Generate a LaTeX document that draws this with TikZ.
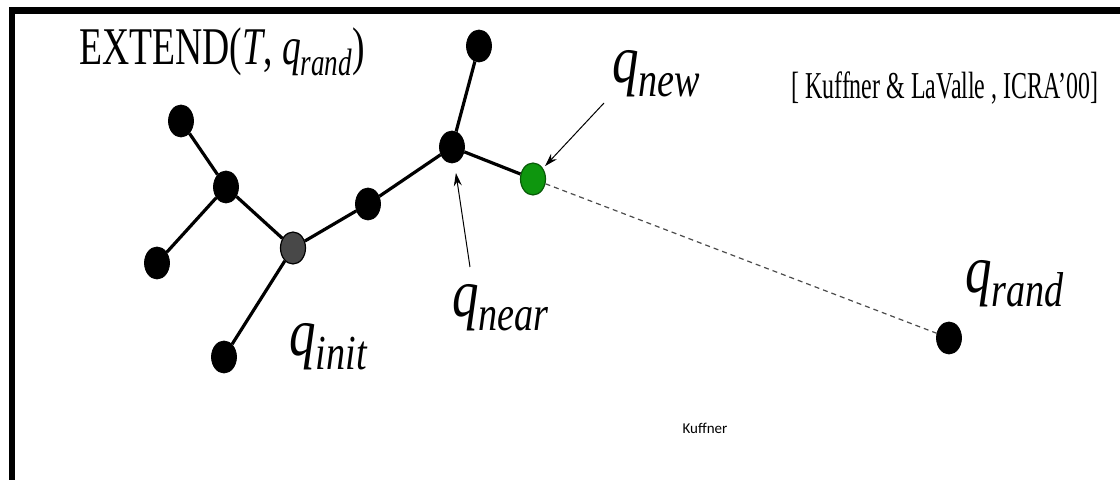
\documentclass[tikz,border=0pt]{standalone}
\usepackage{graphicx}
\usepackage{fontspec}
\setmainfont{Liberation Serif}
\newfontfamily\uifont{Carlito}
\usetikzlibrary{arrows.meta,shapes.geometric}
\definecolor{newgreen}{RGB}{14,150,14}
\definecolor{initgray}{RGB}{72,72,72}
\newcommand{\qsub}[1]{\textit{q}\raisebox{-0.2em}{\scalebox{0.72}{\textit{#1}}}}
\begin{document}
\begin{tikzpicture}[x=0.5pt,y=-0.5pt,
    vertex/.style={ellipse,draw=black,fill=black,inner sep=0pt,
      minimum width=12.5pt,minimum height=16pt},
    branch/.style={line width=1.6pt},
    pointer/.style={line width=0.5pt,-{Stealth[length=6.5pt,width=4pt]}},
    qtext/.style={font=\fontsize{34}{40}\selectfont,inner sep=0pt,
      anchor=base west,xscale=0.78,transform shape}]
  \useasboundingbox (0,0) rectangle (1120,480);
  \fill[white] (0,0) rectangle (1120,480);
  % frame
  \draw[line width=3.4pt] (12,480) |- (1120,10.5);
  % tree
  \node[vertex] (leafa) at (181,121) {};
  \node[vertex] (fork) at (226,187) {};
  \node[vertex] (leafb) at (157,263) {};
  \node[vertex,fill=initgray,line width=0.6pt] (qinit) at (293,248) {};
  \node[vertex] (leafc) at (224,357) {};
  \node[vertex] (mid) at (368,204) {};
  \node[vertex] (qnear) at (452,147) {};
  \node[vertex] (leafd) at (479,46) {};
  \node[vertex,fill=newgreen,draw=newgreen!60!black,line width=0.6pt] (qnew) at (533,179) {};
  \node[vertex] (qrand) at (949,338) {};
  \draw[branch] (fork) -- (leafa);
  \draw[branch] (fork) -- (leafb);
  \draw[branch] (fork) -- (qinit);
  \draw[branch] (qinit) -- (leafc);
  \draw[branch] (qinit) -- (mid);
  \draw[branch] (mid) -- (qnear);
  \draw[branch] (qnear) -- (leafd);
  \draw[branch] (qnear) -- (qnew);
  \draw[line width=0.6pt,gray!60!black,dash pattern=on 2.5pt off 2pt] (qnew) -- (qrand);
  % arrows
  \coordinate (newtail) at (604,103);
  \coordinate (neartail) at (470,267);
  \draw[pointer,shorten >=1.5pt] (newtail) -- (qnew);
  \draw[pointer,shorten >=5pt] (neartail) -- (qnear);
  % labels
  \node[qtext,font=\fontsize{26.5}{30}\selectfont,xscale=0.71/0.78] (title) at (79,65)
    {EXTEND(\textit{T}, \qsub{rand})};
  \node[qtext] (newlab) at (612,83) {\qsub{new}};
  \node[qtext] (nearlab) at (452,317) {\qsub{near}};
  \node[qtext] (initlab) at (289,356) {\qsub{init}};
  \node[qtext] (randlab) at (965,293) {\qsub{rand}};
  \node[qtext,font=\fontsize{19}{22}\selectfont,xscale=0.63/0.78] (cite) at (791,99)
    {[ Kuffner \& LaValle , ICRA'00]};
  \node[font=\uifont\fontsize{7.5}{9}\selectfont,inner sep=0pt] (mark) at (705,428) {Kuffner};
\end{tikzpicture}
\end{document}
